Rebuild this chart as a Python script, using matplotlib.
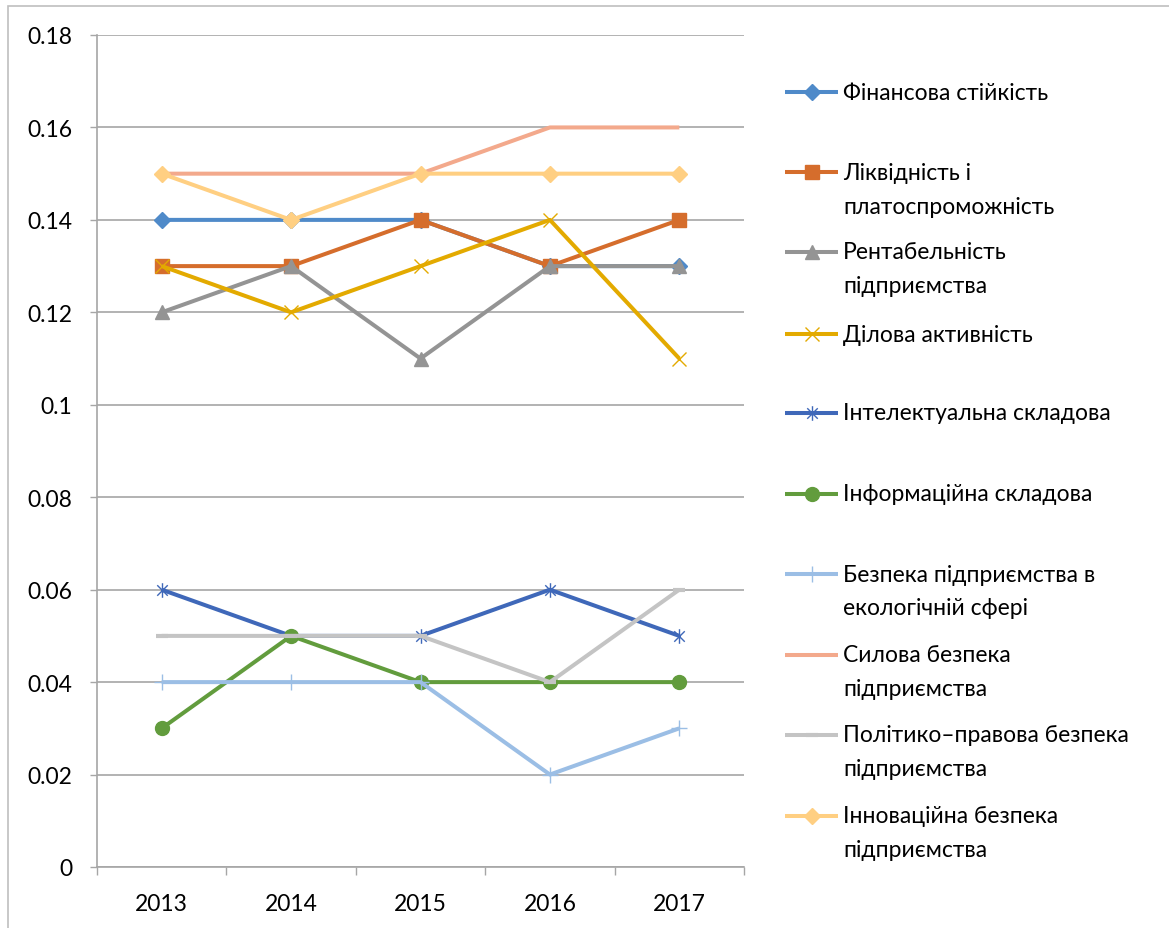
import matplotlib
matplotlib.use("Agg")
import matplotlib.pyplot as plt
from matplotlib.path import Path
from matplotlib.lines import Line2D
from matplotlib.patches import Rectangle

plt.rcParams['font.family'] = ['Lato', 'DejaVu Sans']

years = ['2013', '2014', '2015', '2016', '2017']
labels = [
    'Фінансова стійкість',
    'Ліквідність і\nплатоспроможність',
    'Рентабельність\nпідприємства',
    'Ділова активність',
    'Інтелектуальна складова',
    'Інформаційна складова',
    'Безпека підприємства в\nекологічній сфері',
    'Силова безпека\nпідприємства',
    'Політико–правова безпека\nпідприємства',
    'Інноваційна безпека\nпідприємства',
]
fin = [0.14, 0.14, 0.14, 0.13, 0.13]
likv = [0.13, 0.13, 0.14, 0.13, 0.14]
rent = [0.12, 0.13, 0.11, 0.13, 0.13]
dilova = [0.13, 0.12, 0.13, 0.14, 0.11]
intel = [0.06, 0.05, 0.05, 0.06, 0.05]
inform = [0.03, 0.05, 0.04, 0.04, 0.04]
ekol = [0.04, 0.04, 0.04, 0.02, 0.03]
sylova = [0.15, 0.15, 0.15, 0.16, 0.16]
polit = [0.05, 0.05, 0.05, 0.04, 0.06]
innov = [0.15, 0.14, 0.15, 0.15, 0.15]
series = [fin, likv, rent, dilova, intel, inform, ekol, sylova, polit, innov]

yticks = [0, 0.02, 0.04, 0.06, 0.08, 0.1, 0.12, 0.14, 0.16, 0.18]
ytick_labels = ['0', '0.02', '0.04', '0.06', '0.08', '0.1', '0.12', '0.14', '0.16', '0.18']

asterisk = Path([(0, -1), (0, 1), (-0.72, -0.72), (0.72, 0.72), (-0.72, 0.72), (0.72, -0.72)],
                [Path.MOVETO, Path.LINETO, Path.MOVETO, Path.LINETO, Path.MOVETO, Path.LINETO])

styles = [
    dict(color='#4F8AC9', marker='D', ms=8),
    dict(color='#D56D2C', marker='s', ms=9.5),
    dict(color='#949494', marker='^', ms=10),
    dict(color='#E3AA00', marker='x', ms=10.5, mew=1.0),
    dict(color='#3F68B9', marker=asterisk, ms=10.5, mew=1.0),
    dict(color='#629C3D', marker='o', ms=10),
    dict(color='#9BBEE5', marker='+', ms=11, mew=1.0),
    dict(color='#F3A98C', marker=None, ms=0),
    dict(color='#C4C4C4', marker='_', ms=9, mew=3),
    dict(color='#FFCF82', marker='D', ms=8),
]

FS = 16.5
W, H = 1169, 929
fig = plt.figure(figsize=(W / 100, H / 100), dpi=100)
ax = fig.add_axes([97 / W, 1 - 868 / H, (744 - 97) / W, (868 - 36) / H])

x = list(range(len(years)))
for s, st in zip(series, styles):
    kw = dict(color=st['color'], lw=2.9, solid_capstyle='butt', solid_joinstyle='round')
    if st['marker'] is not None:
        kw.update(marker=st['marker'], ms=st['ms'], mec=st['color'], mfc=st['color'],
                  mew=st.get('mew', 1.0))
    ax.plot(x, s, clip_on=False, **kw)

ax.set_xlim(-0.5, len(years) - 0.5)
ax.set_ylim(0, 0.18)
ax.set_yticks(yticks)
ax.set_yticklabels(ytick_labels)
ax.set_xticks(x)
ax.set_xticklabels(years)
ax.set_xticks([i - 0.5 for i in range(len(years) + 1)], minor=True)

grid_c = '#A6A6A6'
ax.grid(axis='y', color=grid_c, lw=1.2)
ax.set_axisbelow(True)
for sp in ['top', 'right']:
    ax.spines[sp].set_visible(False)
for sp in ['left', 'bottom']:
    ax.spines[sp].set_color(grid_c)
    ax.spines[sp].set_linewidth(1.2)
ax.tick_params(axis='y', length=5, width=1.0, color=grid_c, pad=13, labelsize=FS)
ax.tick_params(axis='x', which='major', length=0, pad=19, labelsize=FS)
ax.tick_params(axis='x', which='minor', length=6, width=1.0, color=grid_c)

# outer chart frame
fig.patches.append(Rectangle((8 / W, -0.1), 1.2, 1 - 7 / H + 0.1, transform=fig.transFigure,
                             fill=False, edgecolor='#BFBFBF', lw=1.2))

# legend (manual, Excel style)
entry_y = [93, 173, 253, 335, 414, 495, 575, 656, 736, 817]
for lab, st, yy in zip(labels, styles, entry_y):
    yf = 1 - yy / H
    kw = dict(color=st['color'], lw=2.9, solid_capstyle='butt')
    ln = Line2D([785 / W, 838 / W], [yf, yf], transform=fig.transFigure, **kw)
    fig.lines.append(ln)
    if st['marker'] is not None:
        mk = Line2D([811.5 / W], [yf], transform=fig.transFigure, marker=st['marker'],
                    ms=st['ms'], mec=st['color'], mfc=st['color'], mew=st.get('mew', 1.0),
                    lw=0)
        fig.lines.append(mk)
    for k, line in enumerate(lab.split('\n')):
        fig.text(843 / W, 1 - (yy + 34 * k) / H, line, fontsize=FS, va='center', ha='left',
                 color='#000000')

fig.savefig('out.png', dpi=100, facecolor='white')
